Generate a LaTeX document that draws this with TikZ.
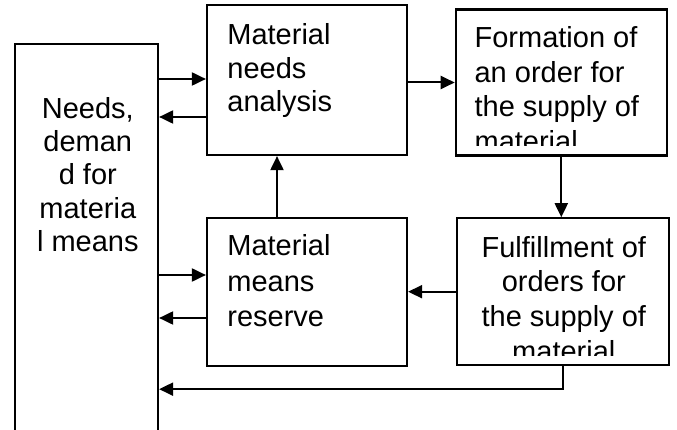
\documentclass[tikz,border=0pt]{standalone}
\usepackage{fontspec}
\setmainfont{Liberation Sans}
\usetikzlibrary{arrows.meta,calc}
\begin{document}
\begin{tikzpicture}[x=1pt,y=-1pt,
  box/.style={draw, line width=2.2pt, rectangle, inner sep=0pt},
  txt/.style={inner sep=0pt},
  arr/.style={line width=2pt, -{Triangle[length=14pt,width=13pt]}}]
\useasboundingbox (0,0) rectangle (677,430);
\fill[white] (0,0) rectangle (677,430);
\clip (0,0) rectangle (677,430);
% boxes
\node[box, minimum width=143pt, minimum height=406pt] (needs) at (86.5,247) {};
\node[box, minimum width=200pt, minimum height=150pt] (mna) at (307,80) {};
\node[box, minimum width=211pt, minimum height=146pt] (form) at (561.3,82.5) {};
\node[box, minimum width=212.6pt, minimum height=146.7pt] (fulf) at (563,291.7) {};
\node[box, minimum width=200pt, minimum height=148pt] (mmr) at (307,292) {};
% texts
\node[txt, anchor=north, align=center, font=\fontsize{29}{33.4}\selectfont] (needstext) at (87.8,96.9) {Needs,\\deman\\d for\\materia\\l means};
\node[txt, anchor=north west, align=left, font=\fontsize{29}{33.7}\selectfont] (mnatext) at (227.2,23.2) {Material\\needs\\analysis};
\begin{scope}
\clip (455,9) rectangle (667,145.7);
\node[txt, anchor=north west, align=left, font=\fontsize{29}{34.5}\selectfont] (formtext) at (474.4,26.6) {Formation of\\an order for\\the supply of\\material};
\end{scope}
\begin{scope}
\clip (456,218) rectangle (670,355.3);
\node[txt, anchor=north, align=center, font=\fontsize{29}{34.7}\selectfont] (fulftext) at (563.8,235.9) {Fulfillment of\\orders for\\the supply of\\material};
\end{scope}
\node[txt, anchor=north west, align=left, font=\fontsize{29}{35.2}\selectfont] (mmrtext) at (227.2,234.6) {Material\\means\\reserve};
% helper coordinates
\coordinate (p1) at ([yshift=1pt]mna.west);
\coordinate (p2) at ([yshift=-37pt]mna.west);
\coordinate (p3) at ([yshift=17pt]mmr.west);
\coordinate (p4) at ([yshift=-26pt]mmr.west);
\coordinate (p5) at ([xshift=-30pt]mmr.north);
\coordinate (fb) at ([yshift=-23pt]fulf.south);
% connectors
\draw[arr] (p1 -| needs.east) -- (p1);
\draw[arr] (p2) -- (p2 -| needs.east);
\draw[arr] (form.west -| mna.east) -- (form.west);
\draw[arr] (form.south) -- (form.south |- fulf.north);
\draw[arr] (fulf.west) -- (fulf.west -| mmr.east);
\draw[arr] (p5) -- (p5 |- mna.south);
\draw[arr] (p3 -| needs.east) -- (p3);
\draw[arr] (p4) -- (p4 -| needs.east);
\draw[arr] (fulf.south) -- (fb) -- (fb -| needs.east);
\end{tikzpicture}
\end{document}
